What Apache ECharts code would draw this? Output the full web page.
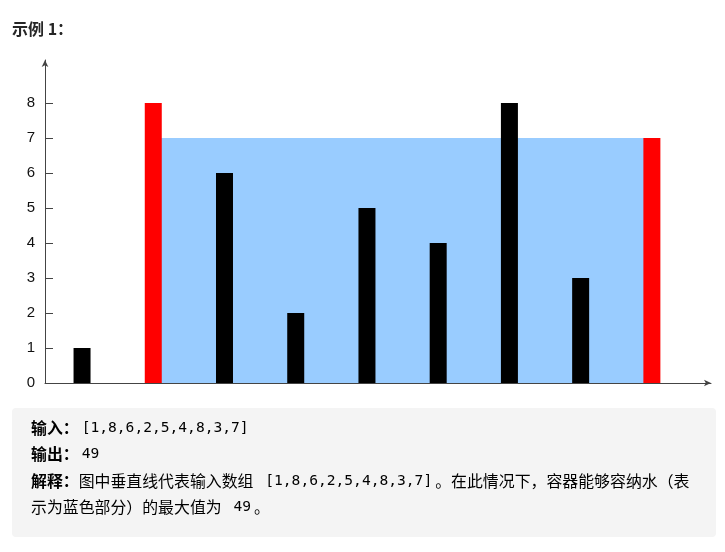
<!DOCTYPE html>
<html>
<head>
<meta charset="utf-8">
<title>示例 1</title>
<script src="https://cdn.jsdelivr.net/npm/echarts@6/dist/echarts.min.js"></script>
<style>
  html, body { margin: 0; padding: 0; background: #fff; }
  #main { width: 725px; height: 552px; }
</style>
</head>
<body>
<div id="main"></div>
<script>
// 数据
var heights = [1, 8, 6, 2, 5, 4, 8, 3, 7]
var walls = [1, 8]          // 两条红色的边
var waterLevel = 7          // 蓝色部分的高度
var answer = 49
var yTicks = [0, 1, 2, 3, 4, 5, 6, 7, 8]

var cjk = '"Noto Sans CJK SC", "Microsoft YaHei", sans-serif'
var mono = '"DejaVu Sans Mono", "Liberation Mono", monospace'
var inputText = '[' + heights.join(',') + ']'

var myChart = echarts.init(document.getElementById('main'))

var barData = heights.map(function (h, i) { return [i, h] })

var option = {
  animation: false,
  title: {
    text: '示例 1：',
    left: 12,
    top: 21,
    padding: 0,
    textStyle: { fontFamily: cjk, fontSize: 16, fontWeight: 'bold', color: '#262626' }
  },
  grid: { left: 45, right: 14, top: 60, bottom: 169 },
  xAxis: {
    type: 'value',
    min: -0.52,
    max: 8.83,
    axisLine: { show: true, onZero: false, lineStyle: { color: '#444', width: 1 }, symbol: ['none', 'arrow'], symbolSize: [5, 7] },
    axisTick: { show: false },
    axisLabel: { show: false },
    splitLine: { show: false }
  },
  yAxis: {
    type: 'value',
    min: 0,
    max: 9.23,
    axisLine: { show: true, onZero: false, lineStyle: { color: '#444', width: 1 }, symbol: ['none', 'arrow'], symbolSize: [5, 7] },
    axisTick: { show: true, inside: true, length: 8, lineStyle: { color: '#444' }, customValues: yTicks.slice(1) },
    axisLabel: { margin: 10, fontSize: 15, color: '#111', fontFamily: 'Liberation Sans, Arial', customValues: yTicks },
    splitLine: { show: false }
  },
  series: [
    {
      // 蓝色的水
      type: 'line',
      data: [],
      z: 1,
      silent: true,
      markArea: {
        silent: true,
        itemStyle: { color: '#99ccff', opacity: 1 },
        data: [[{ xAxis: walls[0], yAxis: 0 }, { xAxis: walls[1], yAxis: waterLevel }]]
      }
    },
    {
      type: 'bar',
      z: 3,
      barWidth: 17,
      data: barData,
      itemStyle: {
        color: function (p) {
          return walls.indexOf(p.dataIndex) >= 0 ? '#ff0000' : '#000000'
        }
      }
    }
  ],
  graphic: [
    {
      type: 'rect',
      shape: { x: 12, y: 408, width: 704, height: 129, r: 4 },
      style: { fill: '#f4f4f4' },
      z: 0
    },
    {
      type: 'group',
      left: 31,
      top: 420,
      children: [
        { type: 'text', x: 0, y: 13, style: rich('{b|输入：}{c|' + inputText + '}') },
        { type: 'text', x: 0, y: 39.5, style: rich('{b|输出：}{c|' + answer + '}') },
        { type: 'text', x: 0, y: 66, style: rich('{b|解释：}{t|图中垂直线代表输入数组}{c| ' + inputText + '}{t|。在此情况下，容器能够容纳水（表}') },
        { type: 'text', x: 0, y: 92, style: rich('{t|示为蓝色部分）的最大值为}{c| ' + answer + '}{t|。}') }
      ]
    }
  ]
}

function rich (str) {
  return {
    text: str,
    verticalAlign: 'middle',
    rich: {
      b: { fontFamily: cjk, fontSize: 15.9, fontWeight: 'bold', color: '#1a1a1a' },
      t: { fontFamily: cjk, fontSize: 15.9, color: '#262626' },
      c: { fontFamily: mono, fontSize: 14.6, color: '#333', padding: [0, 3] }
    }
  }
}

myChart.setOption(option)
</script>
</body>
</html>
